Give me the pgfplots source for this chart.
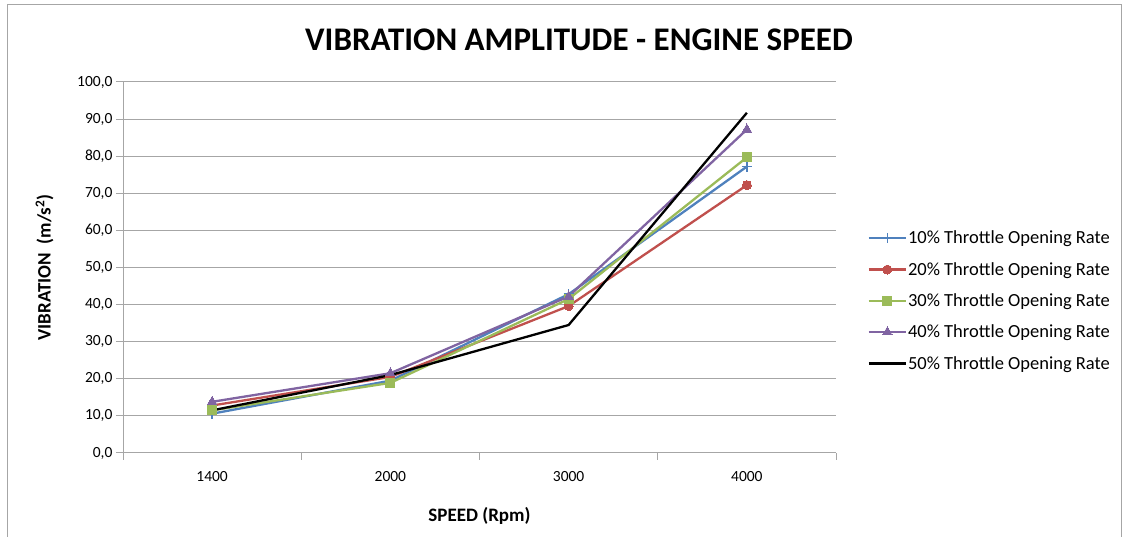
\documentclass[border=0pt]{standalone}
\usepackage{pgfplots}
\pgfplotsset{compat=1.18}
\usepackage{fontspec}
\setmainfont{Carlito}
\definecolor{c1}{HTML}{4F81BD}
\definecolor{c2}{HTML}{C0504D}
\definecolor{c3}{HTML}{9BBB59}
\definecolor{c4}{HTML}{8064A2}
\definecolor{gridc}{HTML}{A6A6A6}
\begin{document}
\begin{tikzpicture}[x=1pt,y=1pt]
\useasboundingbox (0,0) rectangle (1123,537);
\draw[gridc, line width=1pt] (7,-2) -- (7,532) -- (1121,532) -- (1121,-2);
\node[font=\fontsize{33}{36}\selectfont\bfseries] at (579,497) {VIBRATION AMPLITUDE - ENGINE SPEED};
\begin{axis}[
  at={(123pt,84pt)}, anchor=south west,
  scale only axis, width=713pt, height=371pt,
  xmin=-0.5, xmax=3.5, ymin=0, ymax=100,
  axis x line=bottom, axis y line=left,
  axis line style={gridc, line width=1pt, -},
  xtick={0,1,2,3}, xticklabels={1400,2000,3000,4000},
  major x tick style={draw=none},
  minor xtick={-0.5,0.5,1.5,2.5,3.5},
  minor x tick style={gridc, line width=1pt},
  minor tick length=7pt,
  ytick={0,10,...,100},
  major y tick style={gridc, line width=1pt},
  major tick length=7pt,
  tick align=outside,
  ymajorgrids, grid style={gridc, line width=1pt},
  yticklabel style={/pgf/number format/.cd, fixed, fixed zerofill, precision=1, use comma, assume math mode=true},
  ticklabel style={font=\fontsize{15.5}{17}\selectfont},
  xticklabel style={yshift=-8pt},
  xlabel={\textbf{SPEED (Rpm)}},
  ylabel={\textbf{VIBRATION\ \ (m/s\textsuperscript{2})}},
  label style={font=\fontsize{19}{21}\selectfont},
  xlabel style={at={(axis description cs:0.5,-0.17)}, anchor=center},
  ylabel style={at={(axis description cs:-0.11,0.5)}, anchor=center},
  legend style={at={(1.04,0.41)}, anchor=west, draw=none, font=\fontsize{18.5}{20}\selectfont, row sep=15pt, nodes={inner sep=1pt}},
  legend cell align=left,
  legend image code/.code={\draw[#1] (0cm,0cm) -- (0.65cm,0cm); \draw[#1, mark repeat=2, mark phase=2] plot coordinates {(0cm,0cm) (0.65cm,0cm) (1.3cm,0cm)}; },
  every axis plot/.append style={line width=2.3pt},
]
\addplot[c1, mark=+, mark size=5pt, mark options={line width=1.5pt}] coordinates {(0,10.6) (1,19.5) (2,42.8) (3,77.2)};
\addplot[c2, mark=*, mark size=4.5pt, mark options={line width=0pt}] coordinates {(0,12.8) (1,20.5) (2,39.6) (3,72.2)};
\addplot[c3, mark=square*, mark size=4.5pt, mark options={line width=0pt}] coordinates {(0,11.5) (1,18.9) (2,41.5) (3,79.7)};
\addplot[c4, mark=triangle*, mark size=5.5pt, mark options={line width=0pt}] coordinates {(0,13.8) (1,21.5) (2,42.2) (3,87.2)};
\addplot[black, mark=none] coordinates {(0,11.5) (1,21.0) (2,34.5) (3,91.7)};
\legend{10\% Throttle Opening Rate,20\% Throttle Opening Rate,30\% Throttle Opening Rate,40\% Throttle Opening Rate,50\% Throttle Opening Rate}
\end{axis}
\end{tikzpicture}
\end{document}
